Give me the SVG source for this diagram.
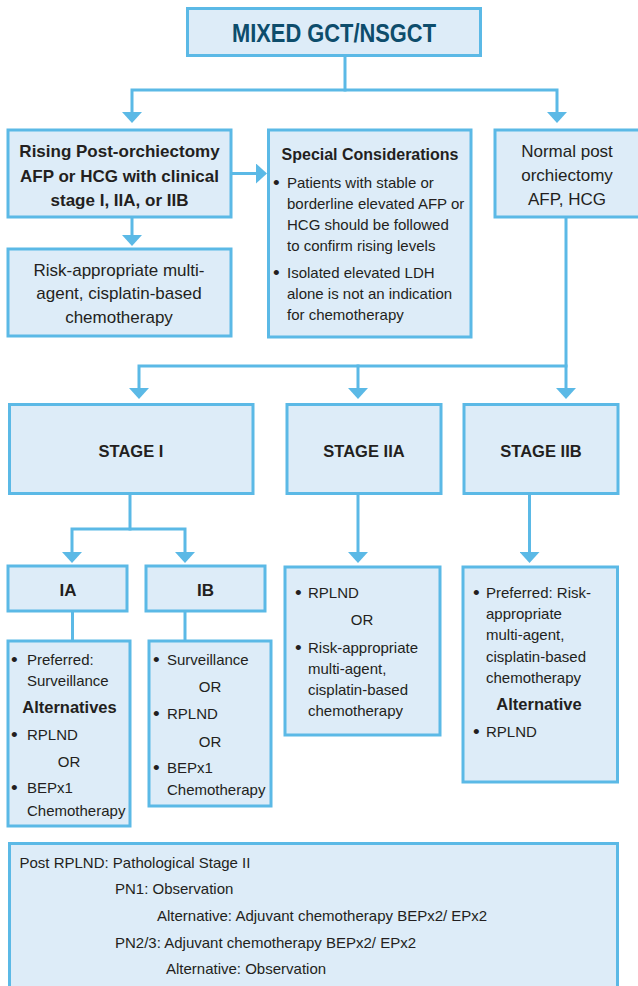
<svg xmlns="http://www.w3.org/2000/svg" width="638" height="986" viewBox="0 0 638 986">
<style>
  .box { fill: #ddecf8; stroke: #5bb9e6; stroke-width: 3; }
  .ln { fill: none; stroke: #5bb9e6; stroke-width: 3; stroke-linecap: square; }
  text { font-family: "Liberation Sans", Arial, sans-serif; fill: #231f20; }
  .title { font-size: 25px; font-weight: bold; fill: #0d4d6c; }
  .hb { font-size: 17px; font-weight: bold; }
  .h { font-size: 17px; }
  .sb { font-size: 16.5px; font-weight: bold; }
  .t { font-size: 15px; }
  .bu { font-size: 19px; }
  .b { font-size: 15px; }
  .c { text-anchor: middle; }
</style>
<defs>
  <marker id="ah" viewBox="0 0 11 20" refX="1" refY="10" markerWidth="11" markerHeight="20" markerUnits="userSpaceOnUse" orient="auto-start-reverse">
    <path d="M0,0 L11,10 L0,20 Z" fill="#5bb9e6"/>
  </marker>
</defs>

<g id="connectors">
  <path class="ln" d="M345,56 V90"/>
  <path class="ln" d="M132,113 V90 H557 V113" marker-start="url(#ah)" marker-end="url(#ah)"/>
  <path class="ln" d="M132,218 V236" marker-end="url(#ah)"/>
  <path class="ln" d="M231,173.5 H257" marker-end="url(#ah)"/>
  <path class="ln" d="M566,218 V389" marker-end="url(#ah)"/>
  <path class="ln" d="M139,389 V366 H566" marker-start="url(#ah)"/>
  <path class="ln" d="M358,366 V389" marker-end="url(#ah)"/>
  <path class="ln" d="M130,494 V529"/>
  <path class="ln" d="M72,553 V529 H185 V553" marker-start="url(#ah)" marker-end="url(#ah)"/>
  <path class="ln" d="M358,494 V553" marker-end="url(#ah)"/>
  <path class="ln" d="M529.5,494 V553" marker-end="url(#ah)"/>
  <path class="ln" d="M72.5,612 V640"/>
  <path class="ln" d="M185,612 V640"/>
</g>

<g id="mixed">
  <rect class="box" x="187.5" y="8.5" width="293" height="47"/>
  <text class="title c" x="334" y="41.5" textLength="204" lengthAdjust="spacingAndGlyphs">MIXED GCT/NSGCT</text>
</g>

<g id="rising">
  <rect class="box" x="8" y="130" width="223" height="87"/>
  <text class="hb c" x="119.5" y="157">Rising Post-orchiectomy</text>
  <text class="hb c" x="119.5" y="181.5">AFP or HCG with clinical</text>
  <text class="hb c" x="119.5" y="205.5">stage I, IIA, or IIB</text>
</g>

<g id="riskchemo">
  <rect class="box" x="8" y="249" width="223" height="87"/>
  <text class="h c" x="119" y="276">Risk-appropriate multi-</text>
  <text class="h c" x="119" y="299">agent, cisplatin-based</text>
  <text class="h c" x="119" y="322.5">chemotherapy</text>
</g>

<g id="special">
  <rect class="box" x="268.5" y="130" width="202.5" height="207"/>
  <text class="sb c" x="370" y="160" style="font-size:16px">Special Considerations</text>
  <text class="bu" x="273" y="188.5">•</text>
  <text class="t" x="287" y="187.5">Patients with stable or</text>
  <text class="t" x="287" y="208.5">borderline elevated AFP or</text>
  <text class="t" x="287" y="229.5">HCG should be followed</text>
  <text class="t" x="287" y="250.5">to confirm rising levels</text>
  <text class="bu" x="273" y="279">•</text>
  <text class="t" x="287" y="278">Isolated elevated LDH</text>
  <text class="t" x="287" y="299">alone is not an indication</text>
  <text class="t" x="287" y="320">for chemotherapy</text>
</g>

<g id="normal">
  <rect class="box" x="495" y="130" width="150" height="87"/>
  <text class="h c" x="567" y="157">Normal post</text>
  <text class="h c" x="567" y="181">orchiectomy</text>
  <text class="h c" x="567" y="204.5">AFP, HCG</text>
</g>

<g id="stage1">
  <rect class="box" x="9.5" y="404.5" width="243.5" height="89"/>
  <text class="sb c" x="131" y="456.5">STAGE I</text>
</g>

<g id="stage2a">
  <rect class="box" x="287" y="404.5" width="154" height="89"/>
  <text class="sb c" x="364" y="456.5">STAGE IIA</text>
</g>

<g id="stage2b">
  <rect class="box" x="464" y="404.5" width="154" height="89"/>
  <text class="sb c" x="541" y="456.5">STAGE IIB</text>
</g>

<g id="ia">
  <rect class="box" x="8" y="566" width="119" height="45"/>
  <text class="hb c" x="68" y="596">IA</text>
</g>

<g id="ib">
  <rect class="box" x="146" y="566" width="119" height="45"/>
  <text class="hb c" x="205.5" y="596">IB</text>
</g>

<g id="ia-detail">
  <rect class="box" x="8" y="641" width="122" height="185"/>
  <text class="bu" x="11" y="666">•</text>
  <text class="t" x="27" y="665">Preferred:</text>
  <text class="t" x="27" y="686">Surveillance</text>
  <text class="sb c" x="69.5" y="712.5">Alternatives</text>
  <text class="bu" x="11" y="741">•</text>
  <text class="t" x="27" y="740">RPLND</text>
  <text class="t c" x="69" y="767">OR</text>
  <text class="bu" x="11" y="794">•</text>
  <text class="t" x="27" y="793">BEPx1</text>
  <text class="t" x="27" y="816">Chemotherapy</text>
</g>

<g id="ib-detail">
  <rect class="box" x="149" y="641" width="122" height="165"/>
  <text class="bu" x="153" y="666">•</text>
  <text class="t" x="167" y="665">Surveillance</text>
  <text class="t c" x="210" y="691.5">OR</text>
  <text class="bu" x="153" y="720">•</text>
  <text class="t" x="167" y="719">RPLND</text>
  <text class="t c" x="210" y="746.5">OR</text>
  <text class="bu" x="153" y="774">•</text>
  <text class="t" x="167" y="773">BEPx1</text>
  <text class="t" x="167" y="795">Chemotherapy</text>
</g>

<g id="iia-detail">
  <rect class="box" x="285" y="567" width="155" height="168"/>
  <text class="bu" x="295" y="599">•</text>
  <text class="t" x="308" y="598">RPLND</text>
  <text class="t c" x="362" y="625">OR</text>
  <text class="bu" x="295" y="653.5">•</text>
  <text class="t" x="308" y="652.5">Risk-appropriate</text>
  <text class="t" x="308" y="674">multi-agent,</text>
  <text class="t" x="308" y="695">cisplatin-based</text>
  <text class="t" x="308" y="716">chemotherapy</text>
</g>

<g id="iib-detail">
  <rect class="box" x="463" y="567" width="154.5" height="215"/>
  <text class="bu" x="473" y="598.5">•</text>
  <text class="t" x="486" y="597.5">Preferred: Risk-</text>
  <text class="t" x="486" y="618.5">appropriate</text>
  <text class="t" x="486" y="640">multi-agent,</text>
  <text class="t" x="486" y="661.5">cisplatin-based</text>
  <text class="t" x="486" y="682.5">chemotherapy</text>
  <text class="sb c" x="539" y="710">Alternative</text>
  <text class="bu" x="473" y="737.5">•</text>
  <text class="t" x="486" y="736.5">RPLND</text>
</g>

<g id="post-rplnd">
  <rect class="box" x="9.5" y="843.5" width="608" height="160"/>
  <text class="b" x="19.5" y="867.5">Post RPLND: Pathological Stage II</text>
  <text class="b" x="115" y="894">PN1: Observation</text>
  <text class="b" x="157" y="921">Alternative: Adjuvant chemotherapy BEPx2/ EPx2</text>
  <text class="b" x="115" y="948">PN2/3: Adjuvant chemotherapy BEPx2/ EPx2</text>
  <text class="b" x="166" y="974">Alternative: Observation</text>
</g>
</svg>
